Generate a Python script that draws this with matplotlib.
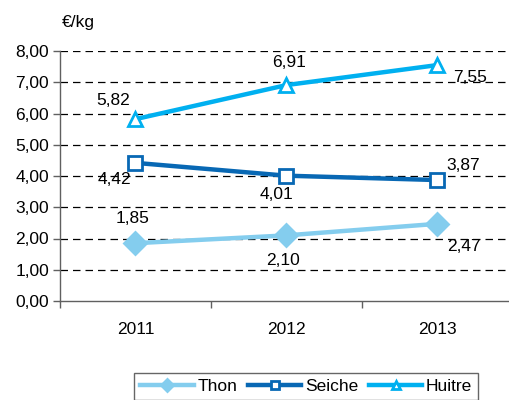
import matplotlib
matplotlib.use("Agg")
import matplotlib.pyplot as plt

years = ["2011", "2012", "2013"]
thon = [1.85, 2.10, 2.47]
seiche = [4.42, 4.01, 3.87]
huitre = [5.82, 6.91, 7.55]
yticks = [0, 1, 2, 3, 4, 5, 6, 7, 8]

plt.rcParams['font.family'] = ['Liberation Sans', 'DejaVu Sans']
plt.rcParams['font.size'] = 12.5

fig = plt.figure(figsize=(5.1, 4.0), dpi=100)
ax = fig.add_axes([60 / 510, 99 / 400, 453 / 510, 250 / 400])

x = [1, 2, 3]

# series: values, colour, marker, marker face, marker size, label offsets (pixels)
series = [
    ("Thon", thon, "#84CDEE", "D", "#84CDEE", 11, [(-3, 25), (-3, -25), (26, -23)]),
    ("Seiche", seiche, "#0868B4", "s", "white", 10, [(-21, -17), (-10, -19), (26, 15)]),
    ("Huitre", huitre, "#00B0F0", "^", "white", 10, [(-22, 19), (3, 23), (33, -12)]),
]

for name, vals, col, mk, face, ms, offs in series:
    ax.plot(x, vals, color=col, lw=3.2, marker=mk, markersize=ms,
            markerfacecolor=face, markeredgecolor=col, markeredgewidth=2,
            label=name, zorder=3, clip_on=False)
    for xi, v, (dx, dy) in zip(x, vals, offs):
        ax.annotate(f"{v:.2f}".replace(".", ","), (xi, v), xytext=(dx, dy),
                    textcoords="offset pixels", ha="center", va="center",
                    color="black", zorder=4)

ax.set_xlim(0.5, 3.5)
ax.set_ylim(0, 8)
ax.set_yticks(yticks)
ax.set_yticklabels([f"{t:.2f}".replace(".", ",") for t in yticks])
ax.set_xticks(x)
ax.set_xticklabels(years)
ax.set_xticks([0.5, 1.5, 2.5, 3.5], minor=True)
ax.tick_params(axis="x", which="major", length=0, pad=15)
ax.tick_params(axis="x", which="minor", length=5, width=1, color="#606060")
ax.tick_params(axis="y", length=5, width=1, color="#606060", pad=3)

for t in yticks[1:]:
    ax.axhline(t, color="black", lw=0.9, ls=(0, (6, 4)), zorder=1)

for s in ["top", "right"]:
    ax.spines[s].set_visible(False)
for s in ["left", "bottom"]:
    ax.spines[s].set_color("#606060")
    ax.spines[s].set_linewidth(1)

fig.text(78 / 510, 1 - 22 / 400, "€/kg", ha="center", va="center")

leg = fig.legend(loc="upper left", bbox_to_anchor=(134 / 510, 1 - 373 / 400),
                 ncol=3, frameon=True, fancybox=False, handlelength=3.1,
                 handletextpad=0.2, columnspacing=0.6, borderpad=0.35,
                 markerscale=0.6, borderaxespad=0)
leg.get_frame().set_edgecolor("#404040")
leg.get_frame().set_linewidth(1)

fig.savefig("out.png", dpi=100)
